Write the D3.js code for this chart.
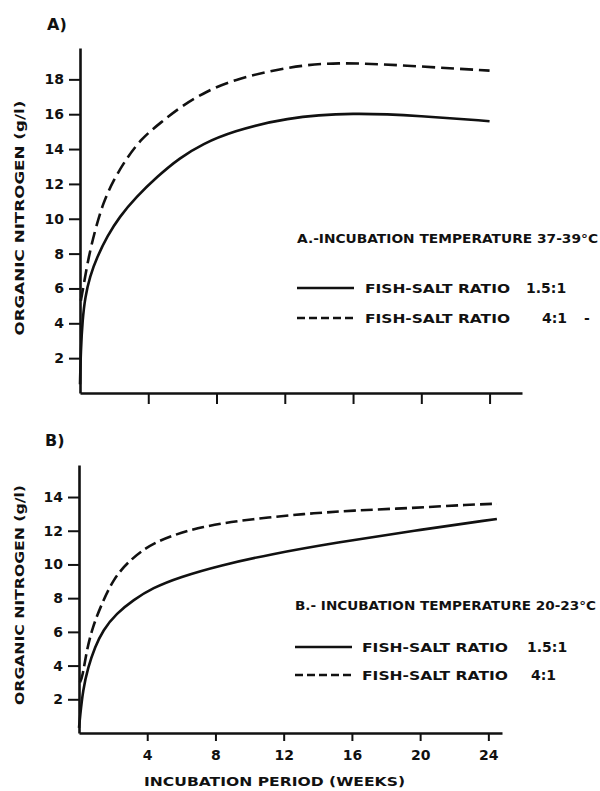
<!DOCTYPE html>
<html>
<head>
<meta charset="utf-8">
<script src="https://cdn.jsdelivr.net/npm/d3@7"></script>
<style>
body { margin: 0; background: #fff; }
svg text { font-family: "DejaVu Sans", sans-serif; font-weight: bold; fill: #111; }
</style>
</head>
<body>
<script>
// A) incubation 37-39 C
var weeksA15 = [0, 0.05, 0.15, 0.3, 0.58, 1.0, 1.6, 2.3, 3.3, 4.5, 5.85, 7.2, 8.9, 12, 16, 20, 24];
var nitroA15 = [0.5, 2.5, 4.2, 5.5, 6.7, 7.8, 9.0, 10.1, 11.25, 12.4, 13.5, 14.3, 15.0, 15.8, 16.1, 15.9, 15.6];
var weeksA4 = [0.05, 0.2, 0.5, 0.9, 1.35, 1.95, 2.75, 3.6, 4.7, 6.0, 7.4, 8.9, 12, 15, 19, 24];
var nitroA4 = [5.3, 6.1, 7.8, 9.4, 10.9, 12.2, 13.5, 14.6, 15.5, 16.5, 17.3, 17.95, 18.7, 19.0, 18.8, 18.5];

// B) incubation 20-23 C
var weeksB15 = [0, 0.06, 0.23, 0.53, 0.94, 1.4, 2.2, 3.2, 4.3, 5.9, 8.3, 11.2, 15.1, 19.6, 24.5];
var nitroB15 = [0.3, 0.95, 2.55, 3.9, 5.1, 6.1, 7.1, 7.9, 8.6, 9.25, 9.95, 10.6, 11.3, 12.0, 12.7];
var weeksB4 = [0.05, 0.2, 0.45, 0.8, 1.35, 2.0, 2.85, 4.4, 7.3, 10.2, 13.2, 16, 19.6, 22.9, 24.5];
var nitroB4 = [3.0, 3.3, 4.9, 6.3, 7.7, 9.1, 10.15, 11.4, 12.3, 12.7, 13.0, 13.2, 13.35, 13.55, 13.6];

// ticks
var yTicksA = [2, 4, 6, 8, 10, 12, 14, 16, 18];
var yTicksB = [2, 4, 6, 8, 10, 12, 14];
var xTicks = [4, 8, 12, 16, 20, 24];

// texts
var panelLabels = ["A)", "B)"];
var titles = ["A.-INCUBATION TEMPERATURE 37-39\u00b0C", "B.- INCUBATION TEMPERATURE 20-23\u00b0C"];
var seriesLabel = "FISH-SALT RATIO";
var ratiosA = ["1.5:1", "4:1"];
var ratiosB = ["1.5:1", "4:1"];
var yTitle = "ORGANIC NITROGEN (g/l)";
var xTitle = "INCUBATION PERIOD (WEEKS)";

var svg = d3.select("body").append("svg")
	.attr("width", 600)
	.attr("height", 791);

function zip(xs, ys) {
	return xs.map(function(x, i) { return [x, ys[i]]; });
}

function drawPanel(p) {
	var x = d3.scaleLinear().domain([0, p.xMax]).range([p.left, p.right]);
	var y = d3.scaleLinear().domain([0, p.yMax]).range([p.bottom, p.top]);

	var line = d3.line()
		.x(function(d) { return x(d[0]); })
		.y(function(d) { return y(d[1]); })
		.curve(d3.curveBasis);

	// y axis
	var ya = svg.append("g")
		.attr("transform", "translate(" + p.left + ",0)")
		.call(d3.axisLeft(y).tickValues(p.yTicks).tickSize(11).tickSizeOuter(0).tickPadding(5));
	ya.select(".domain").attr("stroke-width", 2.6).attr("stroke", "#111");
	ya.selectAll(".tick line").attr("stroke-width", 2).attr("stroke", "#111");
	ya.selectAll(".tick text").attr("font-size", 14).attr("font-family", null);

	// x axis
	var xa = svg.append("g")
		.attr("transform", "translate(0," + p.bottom + ")")
		.call(d3.axisBottom(x).tickValues(xTicks).tickSize(p.xTickSize).tickSizeOuter(0).tickPadding(9)
			.tickFormat(p.xLabels ? d3.format("d") : function() { return ""; }));
	xa.select(".domain").attr("stroke-width", 2.6).attr("stroke", "#111");
	xa.selectAll(".tick line").attr("stroke-width", 2).attr("stroke", "#111");
	xa.selectAll(".tick text").attr("font-size", 14).attr("font-family", null);

	// curves
	svg.append("path")
		.datum(zip(p.w15, p.n15))
		.attr("d", line)
		.attr("fill", "none")
		.attr("stroke", "#111")
		.attr("stroke-width", 2.6);

	svg.append("path")
		.datum(zip(p.w4, p.n4))
		.attr("d", line)
		.attr("fill", "none")
		.attr("stroke", "#111")
		.attr("stroke-width", 2.6)
		.attr("stroke-dasharray", p.dash);

	// panel letter
	svg.append("text")
		.attr("x", p.letterX)
		.attr("y", p.letterY)
		.attr("dy", "0.35em")
		.attr("font-size", 16)
		.text(p.letter);

	// y title
	svg.append("text")
		.attr("transform", "translate(19," + p.yTitleY + ") rotate(-90)")
		.attr("text-anchor", "middle")
		.attr("dy", "0.35em")
		.attr("font-size", 13)
		.attr("textLength", p.yTitleLen)
		.attr("lengthAdjust", "spacingAndGlyphs")
		.text(yTitle);

	// legend
	var lg = p.legend;
	svg.append("text")
		.attr("x", lg.x)
		.attr("y", lg.titleY)
		.attr("dy", "0.35em")
		.attr("font-size", 13)
		.attr("textLength", lg.titleLen)
		.attr("lengthAdjust", "spacingAndGlyphs")
		.text(p.title);

	[lg.solidY, lg.dashY].forEach(function(ly, i) {
		svg.append("line")
			.attr("x1", lg.x)
			.attr("x2", lg.lineEnd)
			.attr("y1", ly)
			.attr("y2", ly)
			.attr("stroke", "#111")
			.attr("stroke-width", 2.4)
			.attr("stroke-dasharray", i ? "8,4" : null);
		svg.append("text")
			.attr("x", lg.textX)
			.attr("y", ly)
			.attr("dy", "0.35em")
			.attr("font-size", 13)
			.attr("textLength", lg.textLen)
			.attr("lengthAdjust", "spacingAndGlyphs")
			.text(seriesLabel);
		svg.append("text")
			.attr("x", lg.ratioX[i])
			.attr("y", ly)
			.attr("dy", "0.35em")
			.attr("font-size", 14)
			.text(p.ratios[i]);
	});
	if (lg.tail) {
		svg.append("text")
			.attr("x", lg.tail)
			.attr("y", lg.dashY)
			.attr("dy", "0.35em")
			.attr("font-size", 14)
			.text("-");
	}
}

drawPanel({
	letter: panelLabels[0], letterX: 47, letterY: 24,
	left: 80, right: 522, xMax: 25.9,
	top: 48, bottom: 393, yMax: 19.8,
	yTicks: yTicksA, xTickSize: 11, xLabels: false,
	w15: weeksA15, n15: nitroA15, w4: weeksA4, n4: nitroA4,
	dash: "13,6",
	yTitleY: 218, yTitleLen: 235,
	title: titles[0], ratios: ratiosA,
	legend: {
		x: 297, titleY: 238, titleLen: 301,
		solidY: 288, dashY: 318, lineEnd: 354,
		textX: 365, textLen: 145,
		ratioX: [526, 542],
		tail: 584
	}
});

drawPanel({
	letter: panelLabels[1], letterX: 45, letterY: 440,
	left: 79, right: 502, xMax: 24.8,
	top: 465, bottom: 733, yMax: 15.9,
	yTicks: yTicksB, xTickSize: 8, xLabels: true,
	w15: weeksB15, n15: nitroB15, w4: weeksB4, n4: nitroB4,
	dash: "12,5",
	yTitleY: 595, yTitleLen: 220,
	title: titles[1], ratios: ratiosB,
	legend: {
		x: 295, titleY: 605, titleLen: 301,
		solidY: 647, dashY: 675, lineEnd: 352,
		textX: 362, textLen: 146,
		ratioX: [527, 531],
		tail: null
	}
});

// x title
svg.append("text")
	.attr("x", 144)
	.attr("y", 781)
	.attr("dy", "0.35em")
	.attr("font-size", 13)
	.attr("textLength", 261)
	.attr("lengthAdjust", "spacingAndGlyphs")
	.text(xTitle);
</script>
</body>
</html>
